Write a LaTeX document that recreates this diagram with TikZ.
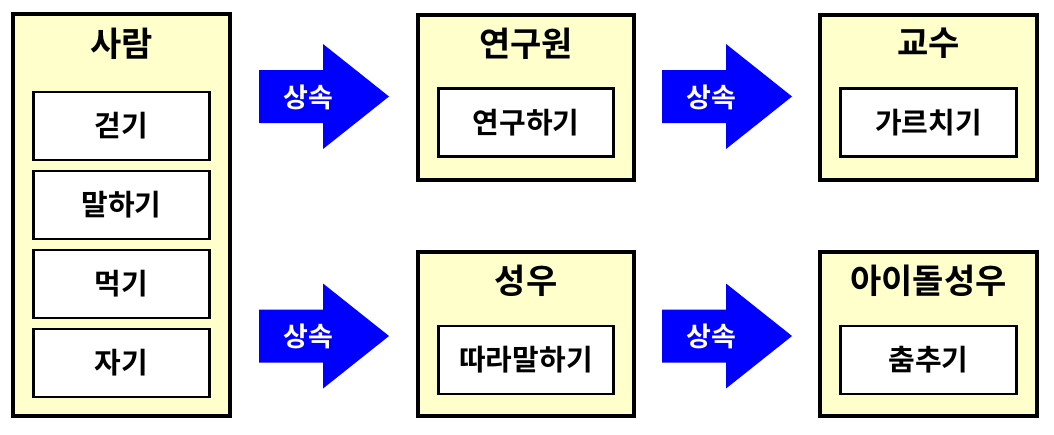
\documentclass[tikz,border=0pt]{standalone}
\usepackage{fontspec}
\newfontfamily\krfont{Noto Sans CJK KR}[BoldFont={Noto Sans CJK KR Bold}]
\usetikzlibrary{positioning}
\definecolor{ClassYellow}{HTML}{FFFFCC}
\definecolor{InheritBlue}{HTML}{0000FF}
\tikzset{
  classbox/.style={draw=black,line width=4pt,fill=ClassYellow,inner sep=0pt,outer sep=0pt},
  classtitle/.style={font=\krfont\bfseries\fontsize{34}{38}\selectfont,inner sep=0pt},
  methodbox/.style={draw=black,line width=2.6pt,fill=white,minimum width=175.5pt,minimum height=68pt,inner sep=0pt,outer sep=0pt,font=\krfont\bfseries\fontsize{29}{32}\selectfont},
  inheritlabel/.style={text=white,inner sep=0pt,font=\krfont\bfseries\fontsize{27}{30}\selectfont}
}

\begin{document}
\begin{tikzpicture}[x=1pt,y=-1pt]
\useasboundingbox (0,0) rectangle (1054,434);
% classes
\node[classbox,minimum width=217pt,minimum height=402pt] (person) at (121.5,215) {};
\node[classbox,minimum width=216pt,minimum height=165.5pt] (researcher) at (526,97.25) {};
\node[classbox,minimum width=217pt,minimum height=165.5pt] (professor) at (928.5,97.25) {};
\node[classbox,minimum width=216pt,minimum height=164pt] (voice) at (526,334) {};
\node[classbox,minimum width=217pt,minimum height=164pt] (idolvoice) at (928.5,334) {};
% titles
\node[classtitle] (person-t) at ([yshift=-30pt]person.north) {사람};
\node[classtitle] (researcher-t) at ([yshift=-29pt]researcher.north) {연구원};
\node[classtitle] (professor-t) at ([yshift=-29pt]professor.north) {교수};
\node[classtitle] (voice-t) at ([yshift=-29pt]voice.north) {성우};
\node[classtitle] (idolvoice-t) at ([yshift=-29pt]idolvoice.north) {아이돌성우};
% methods
\node[methodbox,below=78pt of person.north] (walk) {걷기};
\node[methodbox,below=11pt of walk] (talk) {말하기};
\node[methodbox,below=11pt of talk] (eat) {먹기};
\node[methodbox,below=11pt of eat] (sleep) {자기};
\node[methodbox,below=74pt of researcher.north] (research) {연구하기};
\node[methodbox,below=74pt of professor.north] (teach) {가르치기};
\node[methodbox,below=74pt of voice.north] (repeat) {따라말하기};
\node[methodbox,below=74pt of idolvoice.north] (dance) {춤추기};
% inheritance arrows
\foreach \dx/\dy [count=\i] in {0/0,403/0,0/239.5,403/239.5}{
  \begin{scope}[shift={(259+\dx,70+\dy)}]
    \fill[InheritBlue] (0,0) -- (64,0) -- (64,-26) -- (130,26.5) -- (64,79) -- (64,53) -- (0,53) -- cycle;
    \node[inheritlabel] (inherit-\i) at (49,27) {상속};
  \end{scope}
}
\end{tikzpicture}
\end{document}
